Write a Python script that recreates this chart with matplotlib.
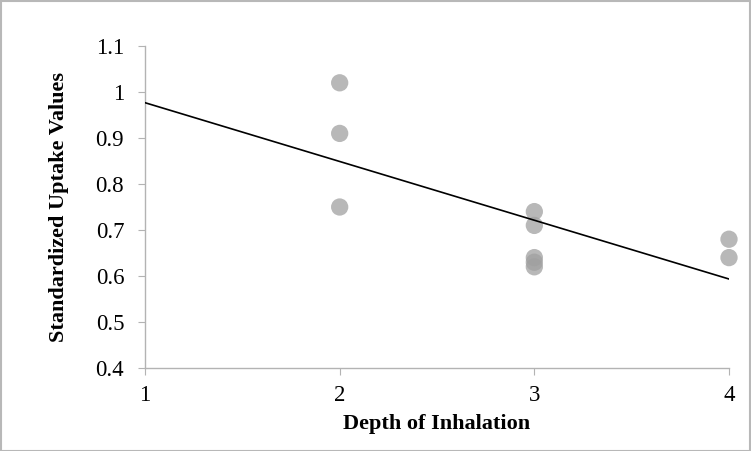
import matplotlib
matplotlib.use("Agg")
import matplotlib.pyplot as plt
import numpy as np
from matplotlib.patches import Rectangle

depth = [2, 2, 2, 3, 3, 3, 3, 3, 4, 4]
suv = [1.02, 0.91, 0.75, 0.74, 0.71, 0.64, 0.63, 0.62, 0.68, 0.64]
xticks = [1, 2, 3, 4]
yticks = [0.4, 0.5, 0.6, 0.7, 0.8, 0.9, 1.0, 1.1]
ytick_labels = ["0.4", "0.5", "0.6", "0.7", "0.8", "0.9", "1", "1.1"]

plt.rcParams['font.family'] = ['Liberation Serif', 'DejaVu Serif']

fig = plt.figure(figsize=(7.51, 4.51), dpi=100)
ax = fig.add_axes([0.1931, 0.184, 0.7776, 0.714])

ax.scatter(depth, suv, s=155, color='#a0a0a0', alpha=0.75, edgecolors='none', zorder=3, clip_on=False)

x = np.array(depth, dtype=float)
y = np.array(suv)
slope, intercept = np.polyfit(x, y, 1)
xl = np.array([1.0, 4.0])
ax.plot(xl, slope * xl + intercept, color='black', lw=1.2, zorder=4)

ax.set_xlim(1, 4)
ax.set_ylim(0.4, 1.1)
ax.set_xticks(xticks)
ax.set_xticklabels([str(t) for t in xticks])
ax.set_yticks(yticks)
ax.set_yticklabels(ytick_labels)
for s in ['top', 'right']:
    ax.spines[s].set_visible(False)
for s in ['left', 'bottom']:
    ax.spines[s].set_color('#b3b3b3')
    ax.spines[s].set_linewidth(1.0)
ax.tick_params(axis='both', direction='out', length=5, color='#b3b3b3', labelsize=16.5)
ax.tick_params(axis='y', pad=10)
ax.tick_params(axis='x', pad=7)
ax.set_xlabel('Depth of Inhalation', fontsize=16, fontweight='bold', labelpad=6)
ax.set_ylabel('Standardized Uptake Values', fontsize=16, fontweight='bold', labelpad=19)

fig.patches.append(Rectangle((0.5/751, 0.5/451), 1 - 1.5/751, 1 - 1.5/451, transform=fig.transFigure,
                             fill=False, edgecolor='#b8b8b8', lw=1.5))

fig.savefig('out.png', dpi=100)
